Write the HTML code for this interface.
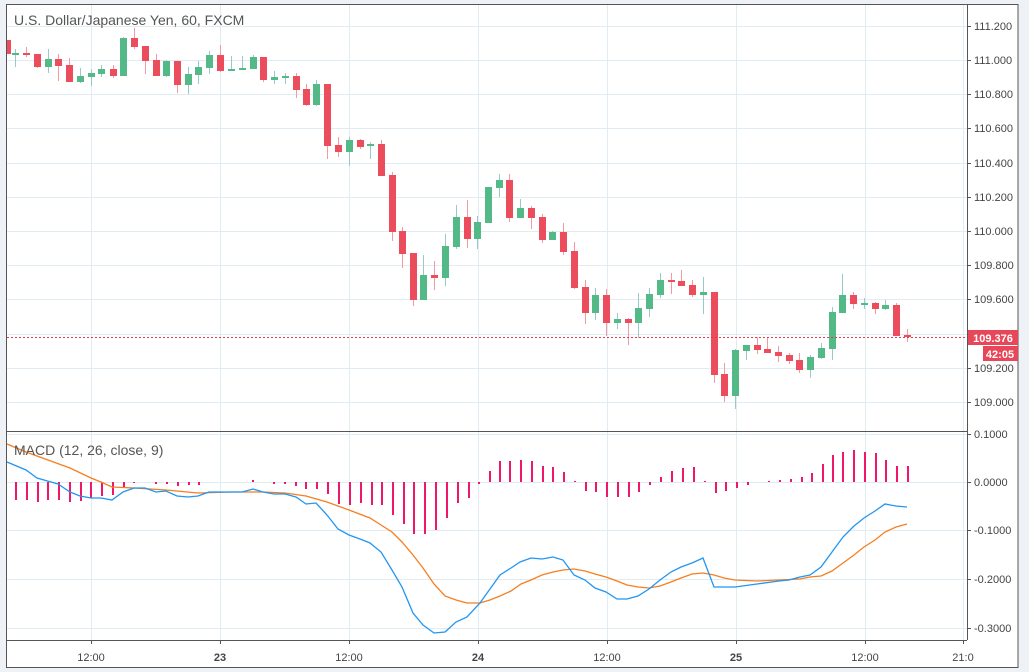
<!DOCTYPE html>
<html><head><meta charset="utf-8">
<style>
html,body{margin:0;padding:0;background:#fff;}
svg{display:block;font-family:"Liberation Sans",sans-serif;}
</style></head>
<body>
<svg id="c" width="1029" height="672" viewBox="0 0 1029 672" xmlns="http://www.w3.org/2000/svg">
<rect x="0" y="0" width="1029" height="672" fill="#eef1f5"/>
<rect x="7" y="5" width="1011" height="662" fill="#fff"/>
<g id="grid" stroke="#e1ebf2" stroke-width="1"></g>
<g id="candles"></g>
<g id="hist" stroke="#f0166a" stroke-width="2"></g>
<polyline id="sig" fill="none" stroke="#f57f20" stroke-width="1.3"/>
<polyline id="macd" fill="none" stroke="#2196f3" stroke-width="1.3"/>
<line x1="7" y1="337.5" x2="967" y2="337.5" stroke="#e8394a" stroke-width="1" stroke-dasharray="2,2"/>
<line x1="7" y1="431.5" x2="967" y2="431.5" stroke="#555" stroke-width="1"/>
<line x1="967.5" y1="5" x2="967.5" y2="640" stroke="#555" stroke-width="1"/>
<line x1="7" y1="640.5" x2="967" y2="640.5" stroke="#555" stroke-width="1"/>
<line x1="6.5" y1="5" x2="6.5" y2="640" stroke="#555" stroke-width="1"/>
<rect x="6.5" y="4.5" width="1011.5" height="663" fill="none" stroke="#555" stroke-width="1"/>
<g id="ticks" stroke="#555" stroke-width="1"></g>
<g id="labels" fill="#444" font-size="11"></g>
<text x="14" y="25" font-size="14" fill="#555">U.S. Dollar/Japanese Yen, 60, FXCM</text>
<text x="14" y="455" font-size="14" fill="#555">MACD (12, 26, close, 9)</text>
<rect x="968" y="330" width="50" height="15" fill="#e8475a"/>
<text x="993" y="342" font-size="11" font-weight="bold" fill="#fff" text-anchor="middle">109.376</text>
<rect x="983" y="346" width="35" height="15" fill="#e8475a"/>
<text x="1000" y="358" font-size="11" font-weight="bold" fill="#fff" text-anchor="middle">42:05</text>
</svg>
<script>
var NS="http://www.w3.org/2000/svg";
function el(p,t,a){var e=document.createElementNS(NS,t);for(var k in a)e.setAttribute(k,a[k]);document.getElementById(p).appendChild(e);return e;}
var hy=[26,60,94,128,163,197,231,265,299,334,368,402],hl=["111.200","111.000","110.800","110.600","110.400","110.200","110.000","109.800","109.600","109.400","109.200","109.000"];
hy.forEach(function(y,i){el("grid","line",{x1:7,x2:967,y1:y+.5,y2:y+.5});el("ticks","line",{x1:967,x2:971,y1:y+.5,y2:y+.5});
 if(i!=9){var t=el("labels","text",{x:974,y:y+4});t.textContent=hl[i];}});
var my=[434,482,530,579,628],ml=["0.1000","0.0000","-0.1000","-0.2000","-0.3000"];
my.forEach(function(y,i){el("grid","line",{x1:7,x2:967,y1:y+.5,y2:y+.5});el("ticks","line",{x1:967,x2:971,y1:y+.5,y2:y+.5});
 var t=el("labels","text",{x:974,y:y+4});t.textContent=ml[i];});
var vx=[91,220,349,478,607,736,865,963],vl=["12:00","23","12:00","24","12:00","25","12:00","21:0"];
vx.forEach(function(x,i){el("grid","line",{x1:x+.5,x2:x+.5,y1:5,y2:640});el("ticks","line",{x1:x+.5,x2:x+.5,y1:640,y2:644});
 var t=el("labels","text",{x:x,y:661,"text-anchor":"middle"});if(i==1||i==3||i==5)t.setAttribute("font-weight","bold");t.textContent=vl[i];});
// candles: [x, open, close, high, low] in pixels (green if close<open pixel)
var C=[[7,40,54,40,54],[15,55,53,49,67],[26,53,55,47,57],[37,54,67,54,68],[48,67,59,49,73],[58,59,66,54,81],[69,65,82,58,82],[80,82,76,68,83],[91,77,73,69,86],[101,74,69,65,77],[113,69,76,65,78],[123,76,38,37,76],[134,38,47,28,49],[145,46,61,46,74],[156,60,76,54,76],[166,76,61,60,77],[177,61,85,61,93],[188,85,74,67,94],[198,75,67,61,84],[209,68,55,51,74],[220,55,71,45,72],[231,71,69,56,71],[242,70,68,56,70],[253,69,57,55,69],[263,57,80,57,82],[274,80,77,71,84],[285,78,76,73,84],[296,76,90,73,98],[306,89,105,84,106],[316,105,84,80,106],[327,84,146,84,159],[338,145,152,137,157],[349,152,140,137,166],[360,140,147,139,149],[370,146,144,142,159],[381,144,176,140,176],[392,175,232,172,241],[402,231,254,227,268],[413,253,300,253,306],[423,300,275,255,300],[434,275,278,261,290],[445,278,246,234,286],[456,247,217,205,249],[467,217,239,200,248],[477,239,222,216,249],[488,223,187,187,223],[499,188,180,174,197],[509,180,218,174,222],[520,218,208,199,218],[531,208,218,206,229],[542,217,240,214,243],[552,240,232,231,240],[563,232,252,223,255],[574,251,288,242,289],[585,287,313,280,324],[595,313,295,288,320],[606,295,323,289,336],[617,323,319,313,329],[628,319,323,318,345],[638,323,308,293,338],[649,309,294,288,317],[660,295,280,273,298],[671,280,282,273,294],[681,281,286,270,286],[692,285,295,280,297],[703,295,292,277,314],[714,292,375,292,383],[724,374,396,363,402],[735,396,350,349,409],[746,351,345,345,360],[757,345,350,337,354],[767,349,353,337,353],[778,352,356,346,362],[789,355,361,353,364],[799,360,370,353,373],[810,370,357,355,378],[821,358,348,343,359],[832,349,312,307,360],[842,313,295,274,313],[853,295,304,292,309],[864,304,303,298,309],[875,303,309,302,314],[885,309,305,300,310],[896,305,336,303,336],[907,335,337,329,342]];
C.forEach(function(c){var up=c[2]<c[1];var col=up?"#53b987":"#eb4d5c";var wc=up?"#9ac9c9":"#f29aa3";
 el("candles","line",{x1:c[0]+.5,x2:c[0]+.5,y1:c[3],y2:c[4],stroke:wc,"stroke-width":1});
 var t=Math.min(c[1],c[2]),h=Math.max(2,Math.abs(c[2]-c[1]));var x0=c[0]-3,w=7;if(c[0]<10){x0=7;w=4;}
 el("candles","rect",{x:x0,y:t,width:w,height:h,fill:col});});
var H=[[16,500],[27,500],[38,502],[48,500],[59,500],[70,502],[81,501],[91,498],[102,496],[113,495],[124,488],[134,483],[156,484],[167,484],[178,486],[189,485],[199,485],[253,480],[274,484],[285,484],[296,486],[306,489],[317,489],[328,494],[339,504],[350,505],[361,503],[372,505],[382,505],[393,515],[404,524],[414,534],[425,534],[436,530],[447,518],[458,503],[469,498],[479,484],[490,471],[500,461],[510,461],[521,460],[532,461],[543,466],[553,467],[564,472],[575,481],[586,491],[596,492],[607,497],[618,497],[629,497],[639,492],[650,485],[661,477],[672,471],[683,468],[694,467],[705,481],[716,493],[726,491],[737,488],[748,485],[758,482],[769,481],[780,480],[791,479],[802,477],[812,473],[823,464],[833,455],[843,452],[854,450],[865,452],[876,453],[886,460],[897,466],[908,466]];
H.forEach(function(h){el("hist","line",{x1:h[0],x2:h[0],y1:482,y2:h[1]});});
var B="7,462 26,470 37,478 58,484 70,492 80,496 91,498 101,498 112,500 123,492 134,488 145,488 156,492 166,491 177,496 188,497 198,496 209,492 220,492 231,492 242,492 253,489 263,492 274,494 285,494 296,497 306,504 316,503 327,515 338,529 349,535 360,539 370,543 381,552 392,570 402,587 413,613 423,625 434,633 445,632 456,622 467,617 480,603 500,575 511,568 520,562 531,558 542,559 553,557 563,560 574,575 585,580 595,588 606,592 617,599 627,599 638,596 649,589 660,580 671,572 681,567 692,563 703,558 714,587 735,587 757,584 779,581 789,580 800,577 810,575 821,567 832,552 843,537 854,526 864,518 875,511 885,504 896,506 907,507";
var S="7,444 26,452 48,460 70,468 91,478 101,482 112,487 134,488 166,490 198,493 231,492 263,492 285,493 306,496 327,502 349,510 370,518 381,525 392,532 402,542 413,555 423,568 434,584 445,596 456,600 467,603 480,603 490,600 500,596 511,591 521,584 531,580 542,575 553,572 563,570 574,569 585,571 595,574 606,577 617,581 627,585 638,587 649,588 660,586 671,582 681,578 692,574 703,573 714,575 724,578 735,580 757,581 779,580 800,579 810,577 821,576 832,571 843,563 854,555 864,547 875,540 885,532 896,527 907,524";
document.getElementById("macd").setAttribute("points",B);
document.getElementById("sig").setAttribute("points",S);
</script>
</body></html>
